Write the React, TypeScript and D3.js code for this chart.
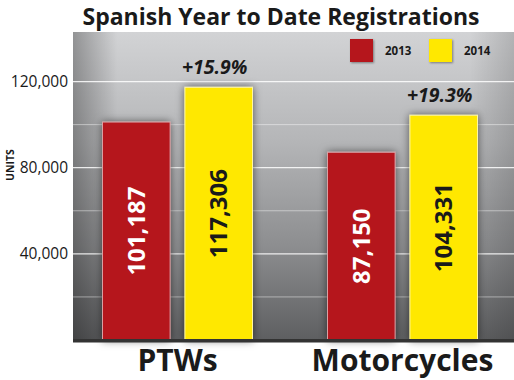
import React from "react";
import * as d3 from "d3";

const categories = ["PTWs", "Motorcycles"];
const years = ["2013", "2014"];
const values2013 = [101187, 87150];
const values2014 = [117306, 104331];
const growthLabels = ["+15.9%", "+19.3%"];
const yTicks = [40000, 80000, 120000];
const yMinorTicks = [20000, 60000, 100000];

const W = 514;
const H = 380;
const plot = { left: 73, right: 514, top: 32, bottom: 340 };
const colors = ["#b5121b", "#ffe800"];
const FONT = "'Open Sans', 'Noto Sans', sans-serif";

export default function App() {
  const x0 = d3
    .scaleBand<string>()
    .domain(categories)
    .range([65, 515])
    .paddingInner(1 / 3)
    .paddingOuter(1 / 6);
  const x1 = d3
    .scaleBand<string>()
    .domain(years)
    .range([0, x0.bandwidth()])
    .paddingInner(0.18);
  const y = d3.scaleLinear().domain([0, 143000]).range([plot.bottom, plot.top]);
  const fmt = d3.format(",");
  const series = [values2013, values2014];

  return (
    <svg
      width={W}
      height={H}
      style={{ position: "absolute", left: 0, top: 0, background: "#fff" }}
    >
      <defs>
        <linearGradient id="bgv" x1="0" y1="0" x2="0" y2="1">
          <stop offset="0" stopColor="#d2d3d5" />
          <stop offset="0.35" stopColor="#b5b6b8" />
          <stop offset="0.7" stopColor="#8c8d8f" />
          <stop offset="1" stopColor="#5e5f61" />
        </linearGradient>
        <linearGradient id="bgh" x1="0" y1="0" x2="1" y2="0">
          <stop offset="0" stopColor="#000" stopOpacity="0.3" />
          <stop offset="0.1" stopColor="#000" stopOpacity="0" />
          <stop offset="0.9" stopColor="#000" stopOpacity="0" />
          <stop offset="1" stopColor="#000" stopOpacity="0.15" />
        </linearGradient>
        <filter id="shadow" x="-30%" y="-10%" width="160%" height="120%">
          <feDropShadow dx="0" dy="0" stdDeviation="4" floodColor="#000" floodOpacity="0.55" />
        </filter>
        <filter id="shadowSm" x="-30%" y="-30%" width="160%" height="160%">
          <feDropShadow dx="1" dy="1" stdDeviation="1" floodColor="#000" floodOpacity="0.4" />
        </filter>
      </defs>

      <text
        x={281}
        y={25}
        textAnchor="middle"
        fontFamily={FONT}
        fontWeight={700}
        fontSize={23}
        fill="#1a1a1a"
      >
        Spanish Year to Date Registrations
      </text>

      <rect
        x={plot.left}
        y={plot.top}
        width={plot.right - plot.left}
        height={plot.bottom - plot.top}
        fill="url(#bgv)"
      />
      <rect
        x={plot.left}
        y={plot.top}
        width={plot.right - plot.left}
        height={plot.bottom - plot.top}
        fill="url(#bgh)"
      />

      {yMinorTicks.map((t) => (
        <line
          key={"m" + t}
          x1={plot.left - 5}
          x2={plot.right}
          y1={y(t)}
          y2={y(t)}
          stroke="#ffffff"
          strokeOpacity={0.45}
          strokeWidth={1}
        />
      ))}
      {yTicks.map((t) => (
        <g key={t}>
          <line
            x1={plot.left - 5}
            x2={plot.right}
            y1={y(t)}
            y2={y(t)}
            stroke="#ffffff"
            strokeOpacity={0.85}
            strokeWidth={1.2}
          />
          <text
            x={plot.left - 5}
            y={y(t)}
            dy="0.35em"
            textAnchor="end"
            fontFamily={FONT}
            fontSize={15.5}
            fill="#1a1a1a"
          >
            {fmt(t)}
          </text>
        </g>
      ))}

      <text
        transform={`translate(14, 165) rotate(-90)`}
        textAnchor="middle"
        fontFamily={FONT}
        fontWeight={700}
        fontSize={10.5}
        fill="#1a1a1a"
      >
        UNITS
      </text>

      {categories.map((c, ci) => (
        <g key={c} transform={`translate(${x0(c)},0)`}>
          {years.map((yr, si) => {
            const v = series[si][ci];
            const bx = x1(yr)!;
            const bw = x1.bandwidth();
            const top = y(v);
            const cy = (top + plot.bottom) / 2;
            return (
              <g key={yr}>
                <rect
                  x={bx}
                  y={top}
                  width={bw}
                  height={plot.bottom - top}
                  fill={colors[si]}
                  stroke={si === 0 ? "#d9a0a3" : "#fff7a0"}
                  strokeWidth={1}
                  filter="url(#shadow)"
                />
                <text
                  transform={`translate(${bx + bw / 2}, ${cy}) rotate(-90)`}
                  textAnchor="middle"
                  dy="0.35em"
                  fontFamily={FONT}
                  fontWeight={700}
                  fontSize={24}
                  fill={si === 0 ? "#ffffff" : "#1a1a1a"}
                >
                  {fmt(v)}
                </text>
              </g>
            );
          })}
          <text
            x={x1("2014")! + x1.bandwidth() / 2 - 4}
            y={y(values2014[ci]) - 13}
            textAnchor="middle"
            fontFamily={FONT}
            fontWeight={700}
            fontStyle="italic"
            fontSize={19.5}
            fill="#1a1a1a"
          >
            {growthLabels[ci]}
          </text>
          <text
            x={x0.bandwidth() / 2}
            y={371}
            textAnchor="middle"
            fontFamily={FONT}
            fontWeight={700}
            fontSize={30}
            fill="#1a1a1a"
          >
            {c}
          </text>
        </g>
      ))}

      <rect x={plot.left} y={plot.bottom - 1} width={plot.right - plot.left} height={3.5} fill="#333" />

      {years.map((yr, i) => (
        <g key={"lg" + yr} transform={`translate(${350 + i * 79}, 39)`}>
          <rect width={23} height={23} fill={colors[i]} filter="url(#shadowSm)" />
          <text
            x={35}
            y={11.5}
            dy="0.35em"
            fontFamily={FONT}
            fontWeight={700}
            fontSize={11.5}
            fill="#1a1a1a"
          >
            {yr}
          </text>
        </g>
      ))}
    </svg>
  );
}
